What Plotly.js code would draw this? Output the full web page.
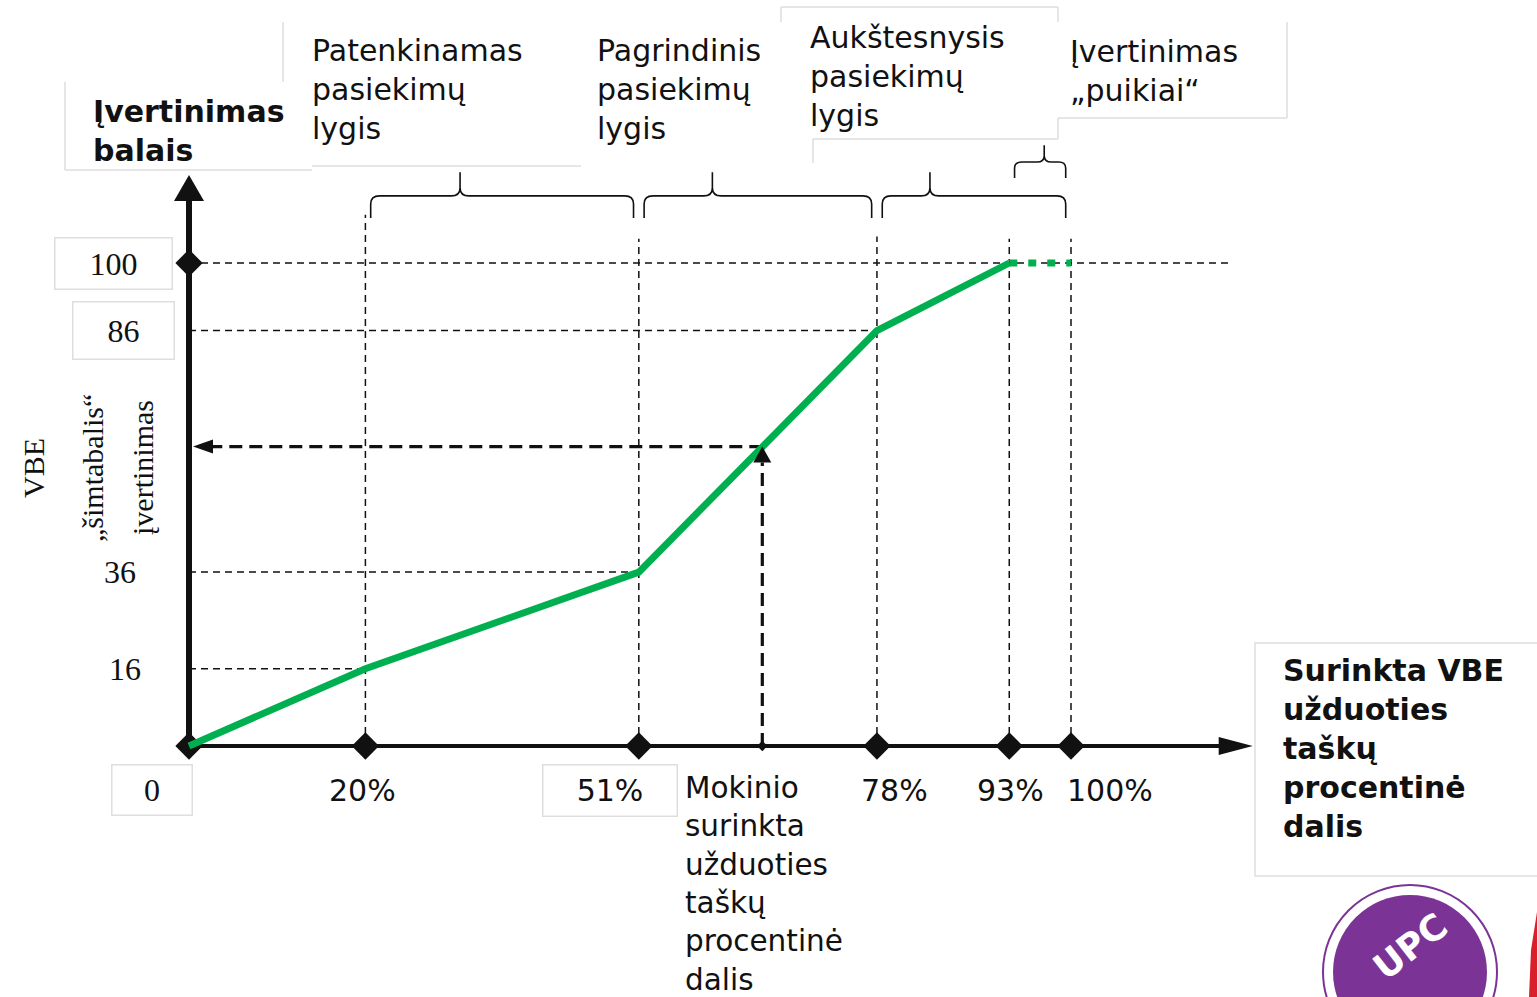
<!DOCTYPE html>
<html><head><meta charset="utf-8">
<script src="https://cdn.plot.ly/plotly-3.0.1.min.js"></script>
<style>html,body{margin:0;padding:0;background:#fff;overflow:hidden}</style>
</head><body><div id="chart" style="width:1537px;height:997px"></div>
<script>
// ---------------- DATA ----------------
const scorePct = [0, 20, 51, 78, 93];          // collected task points, %
const scoreVBE = [0, 16, 36, 86, 100];         // VBE 100-point grade
const topPct = [93, 100];                      // "puikiai" plateau
const topVBE = [100, 100];
const xTickVals = [0, 20, 51, 78, 93, 100];
const xTickText = ['0', '20%', '51%', '78%', '93%', '100%'];
const yTickVals = [100, 86, 36, 16];
const yTickText = ['100', '86', '36', '16'];
const yGuideEnd = [null, 78, 51, 20];           // x where each horizontal guide stops
const studentPct = 65;
const studentVBE = 62;
const levelStart = [20, 51, 78, 93];
const levelEnd = [51, 78, 100, 100];
const levelNames = ['Patenkinamas<br>pasiekimų<br>lygis', 'Pagrindinis<br>pasiekimų<br>lygis',
  'Aukštesnysis<br>pasiekimų<br>lygis', 'Įvertinimas<br>„puikiai“'];
const yTitleLines = ['VBE', '„šimtabalis“', 'įvertinimas'];
const yAxisLabel = 'Įvertinimas<br>balais';
const xAxisLabel = 'Surinkta VBE<br>užduoties<br>taškų<br>procentinė<br>dalis';
const studentLabel = 'Mokinio<br>surinkta<br>užduoties<br>taškų<br>procentinė<br>dalis';

// ---------------- LAYOUT CONSTANTS ----------------
const W = 1537, H = 997;
const X0PX = 189, KX = 8.82;   // pixel of x=0, px per %
const Y0PX = 746, KY = 4.83;   // pixel of y=0, px per point
const xRange = [-X0PX / KX, (W - X0PX) / KX];
const yRange = [-(H - Y0PX) / KY, Y0PX / KY];
const P = v => v / W, Q = v => 1 - v / H;
const SANS = 'DejaVu Sans', SERIF = 'Liberation Serif';
const GREEN = '#00b050', INK = '#111111', BOXC = '#dedede';
const xAxisEnd = 120.6, yAxisEnd = 118.2, yGuideRight = 118;
const vGuideTop = [null, 110, 105, 105.5, 105, 105];
const braceTipFrac = [0.34, 0.30, 0.26, 0.58];
const braceLevel = [
  {end: 109.3, mid: 113.9, tip: 118.8, rx: 1.0, ry: 1.7},
  {end: 109.3, mid: 113.9, tip: 118.8, rx: 1.0, ry: 1.7},
  {end: 109.3, mid: 113.9, tip: 118.8, rx: 1.0, ry: 1.7},
  {end: 117.6, mid: 120.9, tip: 124.4, rx: 0.8, ry: 1.3}
];

const shapes = [];
const annotations = [];

// text-box borders (light grey, partially visible as in the original)
const boxSegs = [
  [65, 82, 65, 170], [65, 170, 312, 170],
  [283, 22, 283, 82], [312, 166, 581, 166],
  [781, 7, 1058, 7], [781, 7, 781, 22], [1058, 7, 1058, 22], [1058, 118, 1058, 139],
  [813, 139, 1058, 139], [813, 139, 813, 163],
  [1287, 22, 1287, 118], [1058, 118, 1287, 118]
];
boxSegs.forEach(s => shapes.push({type: 'line', xref: 'paper', yref: 'paper', layer: 'below',
  x0: P(s[0]), y0: Q(s[1]), x1: P(s[2]), y1: Q(s[3]), line: {color: BOXC, width: 1.5}}));
shapes.push({type: 'rect', xref: 'paper', yref: 'paper', layer: 'below',
  x0: P(1255), x1: P(1545), y0: Q(643), y1: Q(876), line: {color: BOXC, width: 1.5}});

// dashed guides
const thinDash = {color: INK, width: 1.5, dash: '7px,5px'};
yTickVals.forEach((v, i) => {
  const xe = yGuideEnd[i] === null ? yGuideRight : yGuideEnd[i];
  shapes.push({type: 'line', layer: 'below', xref: 'x', yref: 'y', x0: 0, x1: xe, y0: v, y1: v, line: thinDash});
});
xTickVals.forEach((v, i) => {
  if (vGuideTop[i] === null) return;
  shapes.push({type: 'line', layer: 'below', xref: 'x', yref: 'y', x0: v, x1: v, y0: 0, y1: vGuideTop[i], line: thinDash});
});

// student read-off arrows
const headV = 16, headH = 20;
const stDash = {color: INK, width: 3.2, dash: '13px,7px'};
shapes.push({type: 'line', layer: 'below', xref: 'x', yref: 'y', x0: studentPct, x1: studentPct,
  y0: 0, y1: studentVBE - headV / KY, line: stDash});
shapes.push({type: 'line', layer: 'below', xref: 'x', yref: 'y', x0: studentPct, x1: (4 + headH) / KX,
  y0: studentVBE, y1: studentVBE, line: stDash});
shapes.push({type: 'path', layer: 'above', xref: 'x', yref: 'y', xsizemode: 'pixel', ysizemode: 'pixel',
  xanchor: studentPct, yanchor: studentVBE, path: 'M0,0 L-9,-' + headV + ' L9,-' + headV + ' Z',
  fillcolor: INK, line: {width: 0}});
shapes.push({type: 'path', layer: 'above', xref: 'x', yref: 'y', xsizemode: 'pixel', ysizemode: 'pixel',
  xanchor: 0, yanchor: studentVBE, path: 'M4,0 L' + (4 + headH) + ',7 L' + (4 + headH) + ',-7 Z',
  fillcolor: INK, line: {width: 0}});

// axes
shapes.push({type: 'line', layer: 'below', xref: 'x', yref: 'y', x0: 0, x1: xAxisEnd - 30 / KX, y0: 0, y1: 0,
  line: {color: INK, width: 4}});
shapes.push({type: 'line', layer: 'below', xref: 'x', yref: 'y', x0: 0, x1: 0, y0: 0, y1: yAxisEnd - 24 / KY,
  line: {color: INK, width: 6}});
shapes.push({type: 'path', layer: 'above', xref: 'x', yref: 'y', xsizemode: 'pixel', ysizemode: 'pixel',
  xanchor: xAxisEnd, yanchor: 0, path: 'M0,0 L-34,9 L-34,-9 Z', fillcolor: INK, line: {width: 0}});
shapes.push({type: 'path', layer: 'above', xref: 'x', yref: 'y', xsizemode: 'pixel', ysizemode: 'pixel',
  xanchor: 0, yanchor: yAxisEnd, path: 'M0,0 L-15,-26 L15,-26 Z', fillcolor: INK, line: {width: 0}});

// braces
function bracePath(x0, x1, xt, b) {
  const {end, mid, tip, rx, ry} = b;
  return `M${x0},${end} L${x0},${mid - ry} Q${x0},${mid} ${x0 + rx},${mid} L${xt - rx},${mid} ` +
    `Q${xt},${mid} ${xt},${mid + ry} L${xt},${tip} L${xt},${mid + ry} Q${xt},${mid} ${xt + rx},${mid} ` +
    `L${x1 - rx},${mid} Q${x1},${mid} ${x1},${mid - ry} L${x1},${end}`;
}
levelStart.forEach((s, i) => {
  const x0 = s + 0.6, x1 = levelEnd[i] - 0.6;
  const xt = x0 + (x1 - x0) * braceTipFrac[i];
  shapes.push({type: 'path', layer: 'below', xref: 'x', yref: 'y', path: bracePath(x0, x1, xt, braceLevel[i]),
    line: {color: INK, width: 1.6}, fillcolor: 'rgba(0,0,0,0)'});
});

// logo (partial, bottom-right)
shapes.push({type: 'circle', xref: 'paper', yref: 'paper', layer: 'above',
  x0: P(1323), x1: P(1497), y0: Q(1059), y1: Q(885), line: {color: '#7b3396', width: 2}, fillcolor: 'rgba(0,0,0,0)'});
shapes.push({type: 'circle', xref: 'paper', yref: 'paper', layer: 'above',
  x0: P(1333), x1: P(1487), y0: Q(1049), y1: Q(895), line: {width: 0}, fillcolor: '#7b3396'});
shapes.push({type: 'path', xref: 'paper', yref: 'paper', layer: 'above',
  path: `M${P(1537)},${Q(912)} L${P(1531)},${Q(950)} L${P(1529)},${Q(997)} L${P(1537)},${Q(997)} Z`,
  fillcolor: '#d9202a', line: {width: 0}});

// ---------------- ANNOTATIONS ----------------
const sansFont = {family: SANS, size: 30, color: INK};
const boldFont = {family: SANS, size: 30, color: INK, weight: 'bold'};
const serifFont = {family: SERIF, size: 32, color: INK};

// x tick labels
const xLabShift = [-37, -3, -29, 18, 1, 39];
const xLabBox = [{w: 79, h: 49}, null, {w: 133, h: 50}, null, null, null];
xTickVals.forEach((v, i) => {
  const a = {x: v, y: 0, xref: 'x', yref: 'y', xanchor: 'center', yanchor: 'middle', text: xTickText[i], showarrow: false,
    xshift: xLabShift[i], yshift: -44, font: i === 0 ? serifFont : sansFont};
  if (xLabBox[i]) Object.assign(a, {width: xLabBox[i].w, height: xLabBox[i].h, bordercolor: BOXC, borderwidth: 1.5, borderpad: 0});
  annotations.push(a);
});
// y tick labels
const yLabX = [113, 123, 120, 125];
const yLabBox = [{w: 116, h: 50}, {w: 100, h: 56}, null, null];
yTickVals.forEach((v, i) => {
  const a = {x: P(yLabX[i]), y: v, xref: 'paper', yref: 'y', xanchor: 'center', yanchor: 'middle',
    text: yTickText[i], showarrow: false, font: serifFont};
  if (yLabBox[i]) Object.assign(a, {width: yLabBox[i].w, height: yLabBox[i].h, bordercolor: BOXC, borderwidth: 1.5, borderpad: 0});
  annotations.push(a);
});
// rotated y title
const yTitleX = [33, 92, 142];
yTitleLines.forEach((t, i) => annotations.push({x: P(yTitleX[i]), y: Q(468), xref: 'paper', yref: 'paper',
  xanchor: 'center', yanchor: 'middle', text: t,
  showarrow: false, textangle: -90, font: {family: SERIF, size: 30, color: INK}}));
// level labels
const levelLeft = [310, 595, 808, 1068];
const levelMid = [89.5, 89.5, 76.5, 70.5];
levelNames.forEach((t, i) => annotations.push({x: P(levelLeft[i]), y: Q(levelMid[i]), xref: 'paper', yref: 'paper',
  xanchor: 'left', yanchor: 'middle', align: 'left', text: t, showarrow: false, font: sansFont}));
annotations.push({x: P(91), y: Q(131), xref: 'paper', yref: 'paper', xanchor: 'left', yanchor: 'middle', align: 'left',
  text: '<b>' + yAxisLabel + '</b>', showarrow: false, font: boldFont});
annotations.push({x: P(1281), y: Q(748.5), xref: 'paper', yref: 'paper', xanchor: 'left', yanchor: 'middle', align: 'left',
  text: '<b>' + xAxisLabel + '</b>', showarrow: false, font: boldFont});
annotations.push({x: P(683), y: Q(884), xref: 'paper', yref: 'paper', xanchor: 'left', yanchor: 'middle', align: 'left',
  text: studentLabel, showarrow: false, font: {family: SANS, size: 29.5, color: INK}});
annotations.push({x: P(1410), y: Q(946), xref: 'paper', yref: 'paper', xanchor: 'center', yanchor: 'middle',
  text: '<b>UPC</b>', showarrow: false, textangle: -38, font: {family: SANS, size: 36, color: '#ffffff'}});

// ---------------- TRACES ----------------
const traces = [
  {x: xTickVals, y: xTickVals.map(() => 0), type: 'scatter', mode: 'markers', hoverinfo: 'skip',
    marker: {symbol: 'diamond', size: 21, color: INK}},
  {x: [0], y: [yTickVals[0]], type: 'scatter', mode: 'markers', hoverinfo: 'skip',
    marker: {symbol: 'diamond', size: 21, color: INK}},
  {x: [studentPct], y: [0], type: 'scatter', mode: 'markers', hoverinfo: 'skip',
    marker: {symbol: 'diamond', size: 8, color: INK}},
  {x: scorePct, y: scoreVBE, type: 'scatter', mode: 'lines', hoverinfo: 'skip',
    line: {color: GREEN, width: 7}},
  {x: topPct, y: topVBE, type: 'scatter', mode: 'lines', hoverinfo: 'skip',
    line: {color: GREEN, width: 7, dash: '8px,11px'}}
];

const layout = {
  width: W, height: H, autosize: false,
  margin: {l: 0, r: 0, t: 0, b: 0, pad: 0},
  paper_bgcolor: '#ffffff', plot_bgcolor: '#ffffff',
  showlegend: false,
  xaxis: {range: xRange, visible: false, fixedrange: true},
  yaxis: {range: yRange, visible: false, fixedrange: true},
  shapes: shapes,
  annotations: annotations
};
Plotly.newPlot('chart', traces, layout, {displayModeBar: false, staticPlot: true});
</script></body></html>
